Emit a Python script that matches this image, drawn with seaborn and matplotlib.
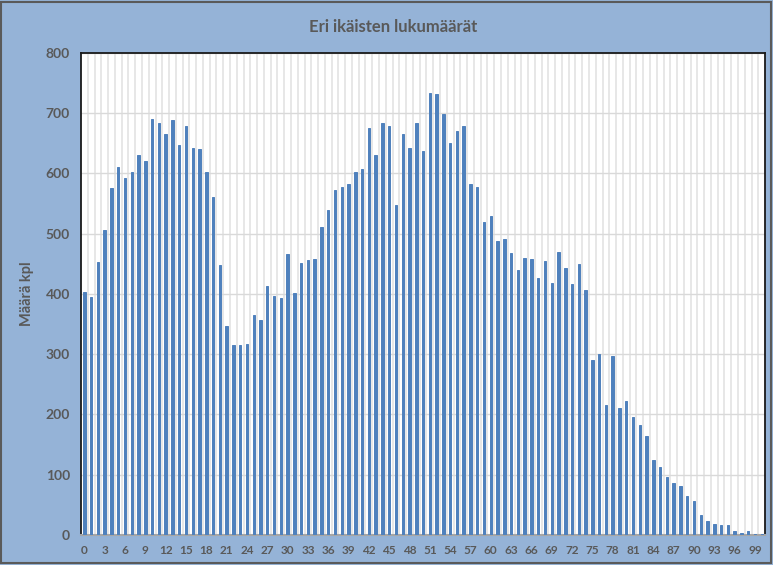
import numpy as np
import pandas as pd
import matplotlib
matplotlib.use('Agg')
import matplotlib.pyplot as plt
import seaborn as sns
from matplotlib.patches import Rectangle

ages = list(range(0, 101))
counts = [403, 395, 453, 507, 576, 610, 593, 603, 630, 620,
          690, 684, 666, 689, 648, 679, 643, 640, 603, 561,
          448, 347, 316, 316, 317, 365, 357, 414, 396, 394,
          467, 401, 452, 457, 458, 512, 540, 573, 578, 582,
          603, 608, 676, 630, 684, 679, 547, 666, 642, 684,
          638, 734, 732, 699, 651, 671, 679, 582, 578, 520,
          529, 488, 491, 468, 440, 460, 458, 427, 455, 419,
          470, 443, 417, 450, 406, 291, 301, 216, 297, 211,
          223, 196, 183, 165, 125, 113, 97, 87, 81, 65,
          57, 34, 24, 19, 16, 16, 6, 4, 6, 2, 2]
title = 'Eri ikäisten lukumäärät'
ylabel = 'Määrä kpl'

bg = '#95B3D7'
bar_col = '#4F81BD'
txt = '#595959'

df = pd.DataFrame({'ika': ages, 'maara': counts})

sns.set_style('white')
plt.rcParams['font.family'] = ['Lato', 'DejaVu Sans']

fig = plt.figure(figsize=(7.73, 5.65), dpi=100, facecolor=bg)
ax = fig.add_axes([0.1048, 0.0531, 0.885, 0.8531])

sns.barplot(data=df, x='ika', y='maara', order=ages, color=bar_col,
            width=0.36, saturation=1, edgecolor=bar_col, linewidth=0.7,
            ax=ax, zorder=3)

ax.set_xlim(-0.5, len(ages) - 0.5)
ax.set_ylim(0, 800)
ax.set_yticks(range(0, 801, 100))
ax.set_xticks(range(0, 100, 3))
ax.set_xticklabels([str(a) for a in range(0, 100, 3)])
ax.set_xticks(np.arange(0.5, len(ages) - 1, 1), minor=True)

ax.grid(axis='y', which='major', color='#D9D9D9', linewidth=1, zorder=0)
ax.grid(axis='x', which='minor', color='#E3E3E3', linewidth=1.2, zorder=0)
ax.grid(axis='x', which='major', visible=False)
ax.set_axisbelow(True)

ax.tick_params(axis='both', which='both', length=0)
ax.tick_params(axis='y', labelsize=10, labelcolor=txt, pad=8)
ax.tick_params(axis='x', labelsize=8.5, labelcolor=txt, pad=7)
for lab in ax.get_xticklabels() + ax.get_yticklabels():
    lab.set_fontweight('bold')

ax.set_xlabel('')
ax.set_ylabel(ylabel, fontsize=10.5, fontweight='bold', color=txt, labelpad=8)

for s in ['top', 'left', 'right']:
    ax.spines[s].set_color('#1a1a1a')
    ax.spines[s].set_linewidth(1.3)
ax.spines['bottom'].set_color('#A6A6A6')
ax.spines['bottom'].set_linewidth(1.5)

fig.text(0.508, 0.952, title, ha='center', va='center', fontsize=12,
         fontweight='bold', color=txt)

fig.patches.append(Rectangle((0.001, 0.003), 0.997, 0.994, transform=fig.transFigure,
                             fill=False, edgecolor='#5a5a5a', linewidth=1.5))

fig.savefig('out.png', dpi=100, facecolor=bg)
